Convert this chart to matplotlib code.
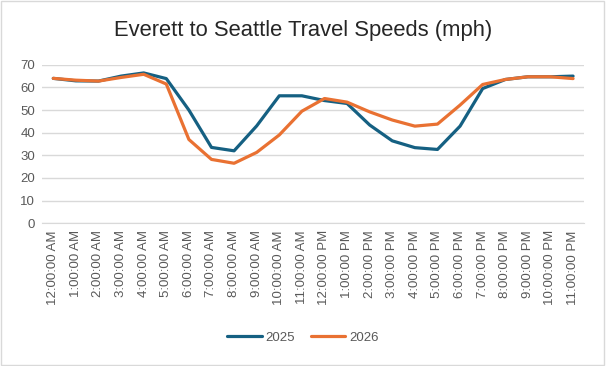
import matplotlib
matplotlib.use("Agg")
import matplotlib.pyplot as plt
from matplotlib.patches import Rectangle

# data
hours = ["12:00:00 AM", "1:00:00 AM", "2:00:00 AM", "3:00:00 AM", "4:00:00 AM",
         "5:00:00 AM", "6:00:00 AM", "7:00:00 AM", "8:00:00 AM", "9:00:00 AM",
         "10:00:00 AM", "11:00:00 AM", "12:00:00 PM", "1:00:00 PM", "2:00:00 PM",
         "3:00:00 PM", "4:00:00 PM", "5:00:00 PM", "6:00:00 PM", "7:00:00 PM",
         "8:00:00 PM", "9:00:00 PM", "10:00:00 PM", "11:00:00 PM"]
speed_2025 = [64.0, 62.9, 62.8, 65.0, 66.4, 63.9, 50.0, 33.5, 32.0, 43.0, 56.3, 56.3,
              54.2, 52.9, 43.4, 36.4, 33.4, 32.6, 42.9, 59.5, 63.5, 64.7, 64.7, 65.0]
speed_2026 = [64.0, 63.2, 62.8, 64.4, 65.8, 61.5, 37.0, 28.2, 26.5, 31.3, 39.0, 49.5,
              55.1, 53.5, 49.2, 45.6, 42.9, 43.8, 52.2, 61.3, 63.5, 64.7, 64.7, 63.9]

plt.rcParams['font.family'] = ['Liberation Sans', 'DejaVu Sans']

fig = plt.figure(figsize=(6.06, 3.66), dpi=100)
ax = fig.add_axes([0.0693, 0.390, 0.895, 0.433])

x = range(len(hours))
ax.plot(x, speed_2025, color='#156082', lw=2.3, label='2025', solid_capstyle='round')
ax.plot(x, speed_2026, color='#E97132', lw=2.3, label='2026', solid_capstyle='round')

ax.set_xlim(-0.5, len(hours) - 0.5)
ax.set_ylim(0, 70)
ax.set_yticks(range(0, 71, 10))
ax.set_xticks(list(x))
ax.set_xticklabels(hours, rotation=90)
ax.tick_params(axis='both', length=0, labelsize=9.5, colors='#595959', pad=5)
ax.grid(axis='y', color='#D9D9D9', lw=1)
ax.set_axisbelow(True)
for s in ['top', 'right', 'left']:
    ax.spines[s].set_visible(False)
ax.spines['bottom'].set_color('#D9D9D9')

fig.suptitle('Everett to Seattle Travel Speeds (mph)', y=0.945, fontsize=15.8, color='#262626')

fig.legend(loc='center', bbox_to_anchor=(0.5, 0.077), ncol=2, frameon=False,
           fontsize=9.5, handlelength=2.6, columnspacing=1.2, handletextpad=0.3,
           labelcolor='#595959')

fig.patches.append(Rectangle((0.002, 0.003), 0.995, 0.993, transform=fig.transFigure,
                             fill=False, edgecolor='#D9D9D9', lw=1))

fig.savefig('out.png', dpi=100)
